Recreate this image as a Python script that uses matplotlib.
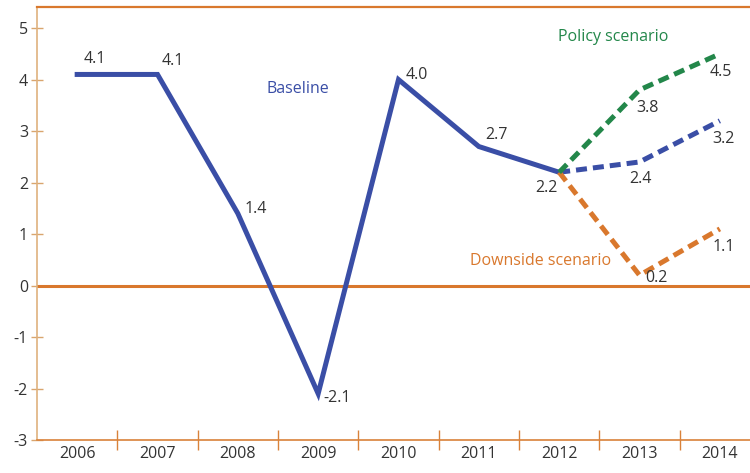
import matplotlib
matplotlib.use("Agg")
import matplotlib.pyplot as plt
import numpy as np

plt.rcParams['font.family'] = ['Open Sans', 'DejaVu Sans']

years = ["2006", "2007", "2008", "2009", "2010", "2011", "2012", "2013", "2014"]
baseline_hist = [4.1, 4.1, 1.4, -2.1, 4.0, 2.7, 2.2]
baseline_proj = [2.2, 2.4, 3.2]
policy = [2.2, 3.8, 4.5]
downside = [2.2, 0.2, 1.1]
yticks = [-3, -2, -1, 0, 1, 2, 3, 4, 5]

blue = "#3a4ea6"
green = "#23874a"
orange = "#d9782d"
axcol = "#d9823a"
txt = "#333333"

fig = plt.figure(figsize=(7.5, 4.73), dpi=100)
ax = fig.add_axes([37/750, 1-440/473, 723/750, (440-7)/473])

lw = 3.6
dash = (0, (2.2, 1.2))
xh = np.arange(len(baseline_hist))
xp = np.arange(6, 9)
ax.plot(xh, baseline_hist, color=blue, lw=lw, solid_joinstyle='miter', zorder=3)
ax.plot(xp, baseline_proj, color=blue, lw=lw, ls=dash, zorder=3)
ax.plot(xp, policy, color=green, lw=lw, ls=dash, zorder=4)
ax.plot(xp, downside, color=orange, lw=lw, ls=dash, zorder=3)

ax.axhline(0, color=orange, lw=2.2, zorder=2)

fs = 11.5
def lab(x, y, s, dx, dy, ha='left', va='center'):
    ax.annotate(s, (x, y), xytext=(dx, dy), textcoords='offset points',
                ha=ha, va=va, fontsize=fs, color=txt)

lab(0, baseline_hist[0], "4.1", 13, 11, ha='center')
lab(1, baseline_hist[1], "4.1", 3, 10)
lab(2, baseline_hist[2], "1.4", 5, 3)
lab(3, baseline_hist[3], "-2.1", 4, -3)
lab(4, baseline_hist[4], "4.0", 5, 3)
lab(5, baseline_hist[5], "2.7", 13, 8, ha='center')
lab(6, baseline_proj[0], "2.2", -1, -11, ha='right')
lab(7, baseline_proj[1], "2.4", 1, -12, ha='center')
lab(7, policy[1], "3.8", 6, -13, ha='center')
lab(7, downside[1], "0.2", 4, -2)
lab(8, policy[2], "4.5", 1, -13, ha='center')
lab(8, baseline_proj[2], "3.2", 3, -13, ha='center')
lab(8, downside[2], "1.1", 3, -13, ha='center')

ax.text(0.361, 0.81, "Baseline", transform=ax.transAxes, color=blue, fontsize=fs, ha='center', va='center')
ax.text(0.797, 0.93, "Policy scenario", transform=ax.transAxes, color=green, fontsize=fs, ha='center', va='center')
ax.text(0.696, 0.413, "Downside scenario", transform=ax.transAxes, color=orange, fontsize=fs, ha='center', va='center')

ax.set_xlim(-0.5, 8.5)
ax.set_ylim(-3, 5.41)

ax.set_yticks(yticks)
ax.set_yticklabels([str(v) for v in yticks], fontsize=fs, color=txt)
ax.tick_params(axis='y', direction='inout', length=9, width=1, color="#d9a56e", pad=2)

ax.set_xticks(np.arange(0.5, 8.5, 1))
ax.set_xticklabels([])
ax.set_xticks(np.arange(len(years)), minor=True)
ax.set_xticklabels(years, minor=True, fontsize=fs, color=txt)
ax.tick_params(axis='x', which='major', direction='inout', length=14, width=1, color=axcol)
ax.tick_params(axis='x', which='minor', length=0, pad=4)

ax.spines['right'].set_visible(False)
ax.spines['top'].set_color(orange)
ax.spines['top'].set_linewidth(1.6)
ax.spines['bottom'].set_color(axcol)
ax.spines['bottom'].set_linewidth(1.2)
ax.spines['left'].set_color("#dfb27e")
ax.spines['left'].set_linewidth(1.2)

fig.savefig("out.png", dpi=100)
